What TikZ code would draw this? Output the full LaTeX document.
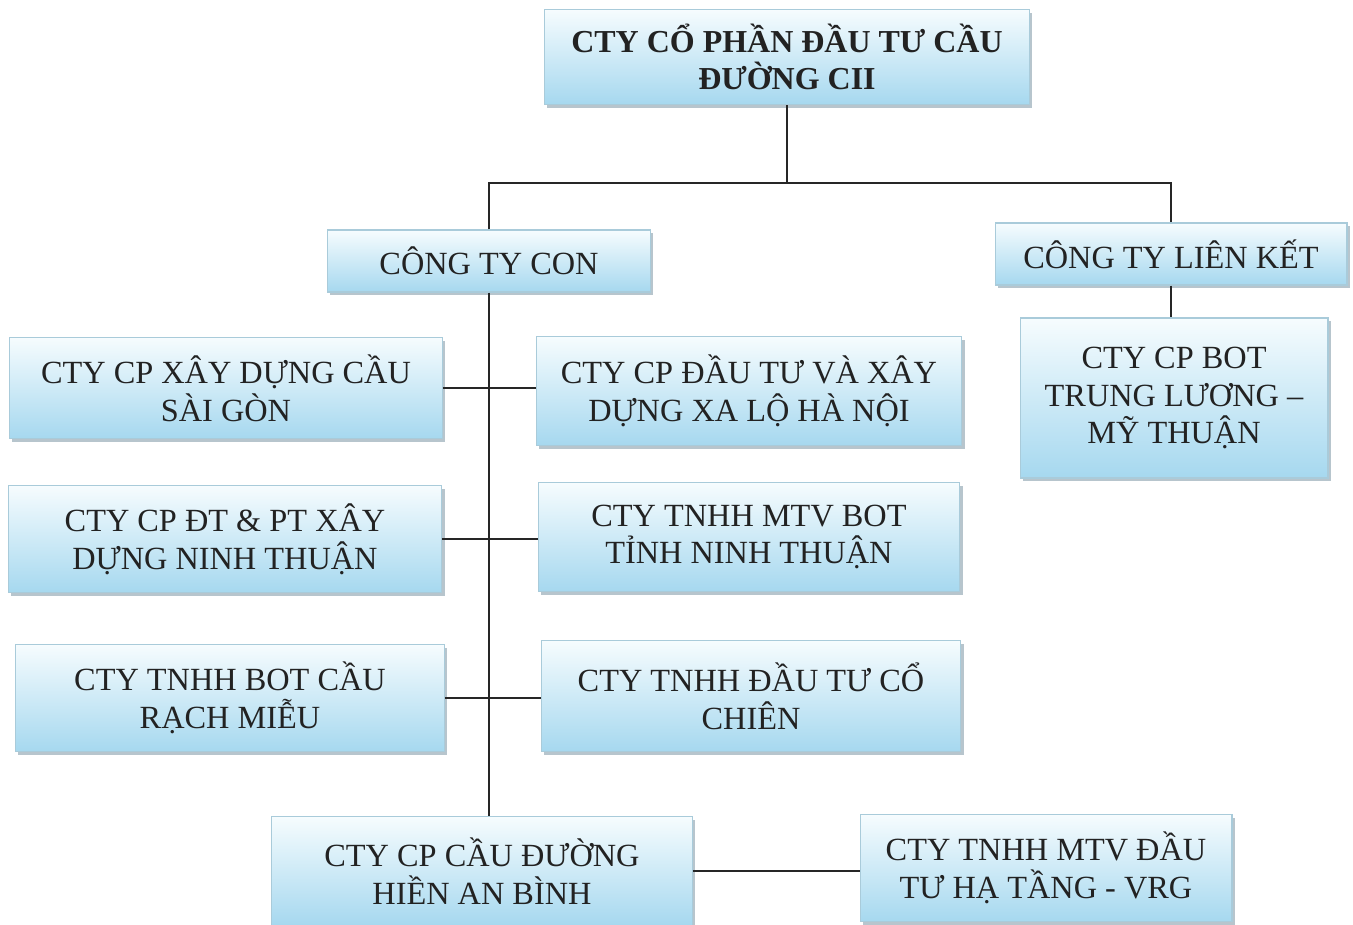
\documentclass[tikz,border=0pt]{standalone}
\usepackage{fontspec}
\setmainfont{Liberation Serif}
\usetikzlibrary{shadows}
\definecolor{boxtop}{HTML}{F6FCFE}
\definecolor{boxbot}{HTML}{A6D8EF}
\definecolor{boxedge}{HTML}{A9CBDA}
\definecolor{boxshade}{HTML}{6F8C9C}
\definecolor{txt}{HTML}{222222}
\begin{document}
\begin{tikzpicture}
[x=0.02cm,y=-0.02cm,
unit/.style = {draw=boxedge, line width=0.6pt, top color=boxtop, bottom color=boxbot,
  drop shadow={shadow xshift=1.6pt, shadow yshift=-1.8pt, fill=boxshade},
  inner sep=0pt, align=center, text=txt, font=\fontsize{18.4}{21.5}\selectfont},
link/.style = {draw=black!85, line width=0.9pt},]
\useasboundingbox (0,0) rectangle (1353,925);
\node (cii) at (787,57)[unit, minimum width=9.7cm, minimum height=1.9cm, font=\fontsize{18.2}{21.5}\selectfont\bfseries] {CTY CỔ PHẦN ĐẦU TƯ CẦU\\ĐƯỜNG CII};
\node (con) at (489,261)[unit, minimum width=6.46cm, minimum height=1.24cm] {CÔNG TY CON};
\node (lk) at (1171,254)[unit, minimum width=7.04cm, minimum height=1.24cm] {CÔNG TY LIÊN KẾT};
\node (tlmt) at (1174,398)[unit, minimum width=6.16cm, minimum height=3.2cm] {CTY CP BOT\\TRUNG LƯƠNG –\\MỸ THUẬN};
\node (sg) at (226,388)[unit, minimum width=8.66cm, minimum height=2.02cm] {CTY CP XÂY DỰNG CẦU\\SÀI GÒN};
\node (xlhn) at (749,391)[unit, minimum width=8.52cm, minimum height=2.18cm] {CTY CP ĐẦU TƯ VÀ XÂY\\DỰNG XA LỘ HÀ NỘI};
\node (ntdt) at (225,539)[unit, minimum width=8.68cm, minimum height=2.14cm] {CTY CP ĐT \& PT XÂY\\DỰNG NINH THUẬN};
\node (ntbot) at (749,537)[unit, minimum width=8.44cm, minimum height=2.18cm] {CTY TNHH MTV BOT\\TỈNH NINH THUẬN};
\node (rm) at (230,698)[unit, minimum width=8.58cm, minimum height=2.14cm] {CTY TNHH BOT CẦU\\RẠCH MIỄU};
\node (cc) at (751,696)[unit, minimum width=8.4cm, minimum height=2.22cm] {CTY TNHH ĐẦU TƯ CỔ\\CHIÊN};
\node (hab) at (482,871)[unit, minimum width=8.42cm, minimum height=2.18cm] {CTY CP CẦU ĐƯỜNG\\HIỀN AN BÌNH};
\node (vrg) at (1046,868)[unit, minimum width=7.44cm, minimum height=2.14cm] {CTY TNHH MTV ĐẦU\\TƯ HẠ TẦNG - VRG};
\coordinate (J) at (787,183);
\draw[link] (cii.south)--(J);
\draw[link] (con.north) |- (J) -| (lk.north);
\draw[link] (lk.south)--(tlmt.north -| lk.south);
\draw[link] (con.south)--(con.south |- hab.north);
\draw[link] (sg.east)--(sg.east -| xlhn.west);
\draw[link] (ntdt.east)--(ntdt.east -| ntbot.west);
\draw[link] (rm.east)--(rm.east -| cc.west);
\draw[link] (hab.east)--(hab.east -| vrg.west);
\end{tikzpicture}
\end{document}
